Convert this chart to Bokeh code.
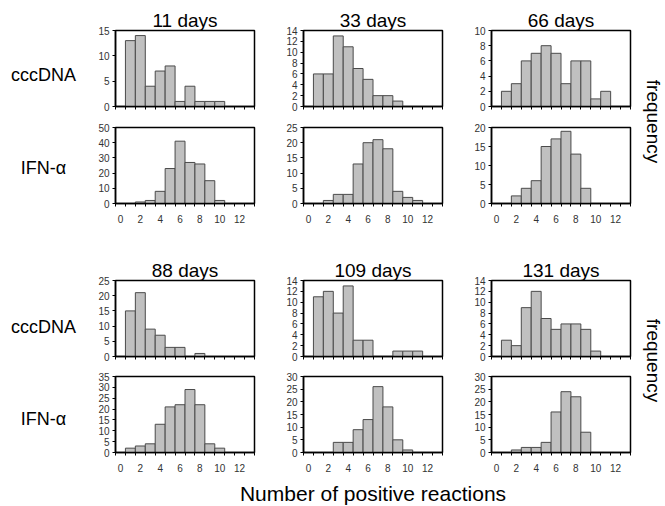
import math
from bokeh.plotting import figure
from bokeh.layouts import row, column
from bokeh.models import Range1d, FixedTicker, LinearAxis
from bokeh.core.properties import value
from bokeh.embed import file_html
from bokeh.resources import INLINE

# ---------------- data ----------------
bins = list(range(14))                      # number of positive reactions (bin centres)
x_tick_labels = [0, 2, 4, 6, 8, 10, 12]
days = ["11 days", "33 days", "66 days", "88 days", "109 days", "131 days"]
row_labels = ["cccDNA", "IFN-\u03b1"]

ccc_11 = [0, 13, 14, 4, 7, 8, 1, 4, 1, 1, 1, 0, 0, 0]
ifn_11 = [0, 0, 1, 2, 8, 23, 41, 27, 26, 15, 2, 0, 0, 0]
ccc_33 = [0, 6, 6, 13, 11, 7, 5, 2, 2, 1, 0, 0, 0, 0]
ifn_33 = [0, 0, 1, 3, 3, 13, 20, 21, 18, 4, 2, 1, 0, 0]
ccc_66 = [0, 2, 3, 6, 7, 8, 7, 3, 6, 6, 1, 2, 0, 0]
ifn_66 = [0, 0, 2, 4, 6, 15, 17, 19, 13, 4, 0, 0, 0, 0]
ccc_88 = [0, 15, 21, 9, 7, 3, 3, 0, 1, 0, 0, 0, 0, 0]
ifn_88 = [0, 2, 3, 4, 13, 21, 22, 29, 22, 4, 2, 0, 0, 0]
ccc_109 = [0, 11, 12, 8, 13, 3, 3, 0, 0, 1, 1, 1, 0, 0]
ifn_109 = [0, 0, 0, 4, 4, 9, 13, 26, 18, 5, 1, 0, 0, 0]
ccc_131 = [0, 3, 2, 9, 12, 7, 5, 6, 6, 5, 1, 0, 0, 0]
ifn_131 = [0, 0, 1, 2, 2, 4, 16, 24, 22, 8, 0, 0, 0, 0]

ccc_series = [ccc_11, ccc_33, ccc_66, ccc_88, ccc_109, ccc_131]
ifn_series = [ifn_11, ifn_33, ifn_66, ifn_88, ifn_109, ifn_131]
ccc_ymax = [15, 14, 10, 25, 14, 14]
ccc_ystep = [5, 2, 2, 5, 2, 2]
ifn_ymax = [50, 25, 20, 35, 30, 30]
ifn_ystep = [10, 5, 5, 5, 5, 5]

# ---------------- style / layout ----------------
FONT = "Liberation Sans"
FW, FH = 139, 76
LEFT_W, RIGHT_W = 83, 30
COL_LEFT = [32, 31, 31]
COL_RIGHT = [18, 18, 5]
XLAB_H = 30
X_RANGE = (-0.5, 13.5)


def panel(counts, ymax, ystep, show_labels, col, top, bottom, title=None):
    p = figure(frame_width=FW, frame_height=FH,
               min_border_left=COL_LEFT[col], min_border_right=COL_RIGHT[col],
               min_border_top=top, min_border_bottom=bottom,
               x_range=Range1d(*X_RANGE), y_range=Range1d(0, ymax),
               x_axis_type=None, y_axis_type=None,
               output_backend="svg", toolbar_location=None)
    xs = [b for b, c in zip(bins, counts) if c > 0]
    ts = [c for c in counts if c > 0]
    p.vbar(x=xs, width=1, top=ts, bottom=0, fill_color="#c0c0c0",
           line_color="#4a4a4a", line_width=1)
    edges = [b - 0.5 for b in bins + [14]]
    xa = LinearAxis(ticker=FixedTicker(ticks=x_tick_labels if show_labels else [],
                                       minor_ticks=edges))
    xa.major_tick_in = 0
    xa.major_tick_out = 0
    xa.minor_tick_in = 0
    xa.minor_tick_out = 3
    xa.minor_tick_line_color = "black"
    xa.axis_line_color = "black"
    xa.axis_line_width = 1.5
    xa.major_label_text_font = FONT
    xa.major_label_text_color = "#333333"
    xa.major_label_text_font_size = "10px"
    xa.major_label_standoff = 8 if show_labels else 0
    p.add_layout(xa, "below")
    ya = LinearAxis(ticker=FixedTicker(ticks=list(range(0, ymax + 1, ystep)), minor_ticks=[]))
    ya.major_tick_in = 0
    ya.major_tick_out = 3
    ya.minor_tick_out = 0
    ya.minor_tick_in = 0
    ya.axis_line_color = "black"
    ya.axis_line_width = 1.5
    ya.major_label_text_font = FONT
    ya.major_label_text_font_size = "10px"
    ya.major_label_text_color = "#333333"
    ya.major_label_standoff = 3
    p.add_layout(ya, "left")
    if title is not None:
        p.title.text = title
        p.title.align = "center"
        p.title.text_font = FONT
        p.title.text_font_size = "19px"
        p.title.text_font_style = "normal"
        p.title.text_color = "black"
        p.title.standoff = 0
        p.title.offset = 0
    p.outline_line_color = "black"
    p.outline_line_width = 1.5
    p.background_fill_color = "white"
    p.border_fill_color = "white"
    return p


def text_fig(w, h):
    f = figure(width=w, height=h, x_range=Range1d(0, w), y_range=Range1d(0, h),
               min_border=0, x_axis_type=None, y_axis_type=None,
               output_backend="svg", toolbar_location=None)
    f.outline_line_color = None
    f.background_fill_color = "white"
    f.border_fill_color = "white"
    return f


col_widths = [COL_LEFT[i] + FW + COL_RIGHT[i] for i in range(3)]
centres = []
acc = 0
for i in range(3):
    centres.append(acc + COL_LEFT[i] + FW / 2)
    acc += col_widths[i]
MID_W = acc

T1, T3 = 30, 54
r1 = row(*[panel(ccc_series[i], ccc_ymax[i], ccc_ystep[i], False, i, T1, 10, days[i]) for i in range(3)])
r2 = row(*[panel(ifn_series[i], ifn_ymax[i], ifn_ystep[i], True, i, 11, 23) for i in range(3)])
r3 = row(*[panel(ccc_series[i + 3], ccc_ymax[i + 3], ccc_ystep[i + 3], False, i, T3, 10, days[i + 3]) for i in range(3)])
r4 = row(*[panel(ifn_series[i + 3], ifn_ymax[i + 3], ifn_ystep[i + 3], True, i, 10, 24) for i in range(3)])

mid = column(r1, r2, r3, r4)
H = (T1 + FH + 10) + (11 + FH + 23) + (T3 + FH + 10) + (10 + FH + 24)

lf = text_fig(LEFT_W, H)
lab_y = [74, 167, 326, 418]
lf.text(x=[43] * 4, y=[H - v for v in lab_y], text=row_labels * 2, text_align="center",
        text_baseline="middle", text_font=value(FONT), text_font_size="18px",
        text_color="black")

rf = text_fig(RIGHT_W, H)
rf.text(x=[18, 18], y=[H - 121, H - 360], text=["frequency", "frequency"],
        angle=-math.pi / 2, text_align="center", text_baseline="middle",
        text_font=value(FONT), text_font_size="19px", text_color="black")

TOTAL_W = LEFT_W + MID_W + RIGHT_W
xl = text_fig(TOTAL_W, XLAB_H)
xl.text(x=[LEFT_W + centres[1]], y=[XLAB_H - 17], text=["Number of positive reactions"],
        text_align="center", text_baseline="middle", text_font=value(FONT),
        text_font_size="21px", text_color="black")

layout = column(row(lf, mid, rf), xl)

open("out.html", "w").write(file_html(layout, INLINE))
